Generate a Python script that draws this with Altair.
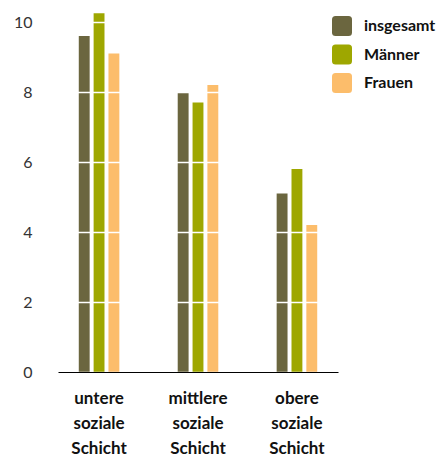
import altair as alt
import pandas as pd

categories = ["untere soziale Schicht", "mittlere soziale Schicht", "obere soziale Schicht"]
series = ["insgesamt", "Männer", "Frauen"]
insgesamt = [9.6, 8.0, 5.1]
maenner = [10.25, 7.7, 5.8]
frauen = [9.1, 8.2, 4.2]
colors = ["#6b663f", "#9ea700", "#fcbd6b"]

rows = []
for i, c in enumerate(categories):
    for s, vals in zip(series, [insgesamt, maenner, frauen]):
        rows.append({"Schicht": c, "Gruppe": s, "Wert": vals[i]})
df = pd.DataFrame(rows)

rounded = "M-0.65,-1 L0.65,-1 Q1,-1 1,-0.65 L1,0.65 Q1,1 0.65,1 L-0.65,1 Q-1,1 -1,0.65 L-1,-0.65 Q-1,-1 -0.65,-1 Z"

chart = alt.Chart(df).mark_bar().encode(
    x=alt.X("Schicht:N", sort=categories,
            scale=alt.Scale(paddingInner=0.59, paddingOuter=0.21),
            axis=alt.Axis(title=None, labelAngle=0, ticks=False, domain=True,
                          domainColor="#000000", domainWidth=1.2, zindex=3,
                          labelExpr="split(datum.label, ' ')",
                          labelFont="Lato", labelFontWeight="bold", labelFontSize=17,
                          labelLineHeight=25, labelColor="#111111", labelPadding=18,
                          labelBaseline="top")),
    xOffset=alt.XOffset("Gruppe:N", sort=series,
                        scale=alt.Scale(paddingInner=0.267, paddingOuter=0)),
    y=alt.Y("Wert:Q", scale=alt.Scale(domain=[0, 10.4], nice=False),
            axis=alt.Axis(title=None, values=[0, 2, 4, 6, 8, 10], domain=False, ticks=False,
                          grid=True, gridColor="#ffffff", gridWidth=1.3, zindex=1,
                          labelFont="Lato", labelFontSize=16, labelColor="#333333",
                          labelPadding=26)),
    color=alt.Color("Gruppe:N", sort=series,
                    scale=alt.Scale(domain=series, range=colors),
                    legend=alt.Legend(title=None, orient="none", legendX=274, legendY=8,
                                      symbolType=rounded, symbolSize=400,
                                      symbolStrokeWidth=0, symbolOpacity=1, zindex=5,
                                      labelFont="Lato", labelFontWeight="bold",
                                      labelFontSize=16, labelColor="#111111",
                                      labelOffset=12, rowPadding=8.5, padding=0)),
).properties(
    width=280, height=364,
    autosize=alt.AutoSizeParams(type="none"),
    padding={"left": 50, "top": 0, "right": 101, "bottom": 85},
).configure_view(stroke=None)

chart.save("out.html", embed_options={"renderer": "svg", "actions": False})
